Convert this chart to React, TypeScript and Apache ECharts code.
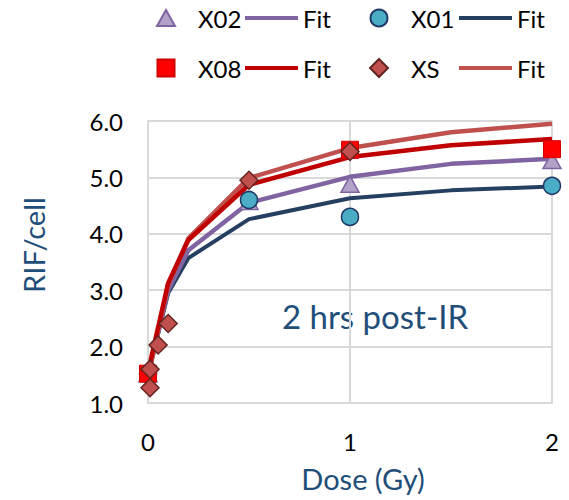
import React, { useEffect, useRef } from "react";
import * as echarts from "echarts";

// Fit curves (dose points and fitted RIF/cell values)
const fitDoses = [0, 0.1, 0.2, 0.5, 1, 1.5, 2];
const fitX02 = [1.5, 3.0, 3.71, 4.55, 5.01, 5.24, 5.33];
const fitX01 = [1.5, 2.95, 3.57, 4.26, 4.63, 4.77, 4.84];
const fitX08 = [1.55, 3.13, 3.89, 4.87, 5.36, 5.57, 5.68];
const fitXS = [1.45, 3.1, 3.92, 4.99, 5.52, 5.8, 5.95];

// Measured points
const dosesX02 = [0, 0.5, 1, 2];
const valuesX02 = [1.52, 4.57, 4.88, 5.3];
const dosesX01 = [0, 0.5, 1, 2];
const valuesX01 = [1.52, 4.6, 4.3, 4.85];
const dosesX08 = [0, 1, 2];
const valuesX08 = [1.52, 5.49, 5.5];
const dosesXS = [0.01, 0.01, 0.05, 0.1, 0.5, 1];
const valuesXS = [1.27, 1.6, 2.03, 2.41, 4.95, 5.46];

const xTicks = [0, 1, 2];
const yTicks = [1, 2, 3, 4, 5, 6];

const annotation = "2 hrs post-IR";
const xTitle = "Dose (Gy)";
const yTitle = "RIF/cell";

const FONT = "Lato";
const NAVY_TEXT = "#1F4E79";
const GRID = "#D9D9D9";

const pairs = (xs: number[], ys: number[]) => xs.map((x, i) => [x, ys[i]]);

export default function App() {
  const ref = useRef<HTMLDivElement>(null);
  useEffect(() => {
    if (!ref.current) return;
    const chart = echarts.init(ref.current, undefined, { renderer: "svg" });
    const legendBase = {
      orient: "horizontal",
      itemGap: 0,
      padding: 0,
      selectedMode: false,
      formatter: (n: string) => (n.endsWith(" Fit") ? "Fit" : n),
    };
    const markerLegend = (name: string, cx: number, top: number, w: number, h: number) => ({
      ...legendBase,
      left: cx - w / 2,
      top,
      itemWidth: w,
      itemHeight: h,
      textStyle: { fontSize: 24, color: "#000", fontFamily: FONT, padding: [0, 0, 0, 32 - w / 2 - 5] },
      data: [name],
    });
    const lineLegend = (name: string, left: number, top: number) => ({
      ...legendBase,
      left,
      top,
      itemWidth: 53,
      itemHeight: 4,
      textStyle: { fontSize: 24, color: "#000", fontFamily: FONT },
      data: [{ name, icon: "rect" }],
    });
    const lineSeries = (name: string, vals: number[], color: string, width: number) => ({
      name,
      type: "line",
      data: pairs(fitDoses, vals),
      symbol: "none",
      lineStyle: { color, width },
      itemStyle: { color },
      z: 2,
    });
    chart.setOption({
      animation: false,
      textStyle: { fontFamily: FONT },
      grid: { left: 148, right: 17, top: 121, bottom: 97 },
      legend: [
        markerLegend("X02", 165, 6, 18, 16),
        lineLegend("X02 Fit", 245, 6),
        markerLegend("X01", 378, 6, 17, 17),
        lineLegend("X01 Fit", 459, 6),
        markerLegend("X08", 165, 56, 17, 17),
        lineLegend("X08 Fit", 245, 56),
        markerLegend("XS", 378, 56, 18, 18),
        lineLegend("XS Fit", 459, 56),
      ],
      xAxis: {
        type: "value",
        min: xTicks[0],
        max: xTicks[xTicks.length - 1],
        interval: 1,
        axisLine: { show: true, lineStyle: { color: GRID, width: 2 } },
        axisTick: { show: false },
        splitLine: { show: true, lineStyle: { color: GRID, width: 2 } },
        axisLabel: { fontSize: 24, color: "#000", margin: 26, fontFamily: FONT },
        name: xTitle,
        nameLocation: "middle",
        nameGap: 61,
        nameTextStyle: { fontSize: 29, color: NAVY_TEXT, fontFamily: FONT, padding: [0, 0, 0, 26] },
      },
      yAxis: {
        type: "value",
        min: yTicks[0],
        max: yTicks[yTicks.length - 1],
        interval: 1,
        axisLine: { show: true, lineStyle: { color: GRID, width: 2 } },
        axisTick: { show: false },
        splitLine: { show: true, lineStyle: { color: GRID, width: 2 } },
        axisLabel: {
          fontSize: 24,
          color: "#000",
          margin: 25,
          fontFamily: FONT,
          formatter: (v: number) => v.toFixed(1),
        },
        name: yTitle,
        nameLocation: "middle",
        nameGap: 100,
        nameTextStyle: { fontSize: 29, color: NAVY_TEXT, fontFamily: FONT, padding: [0, 0, 0, 34] },
      },
      graphic: [
        {
          type: "text",
          x: 375,
          y: 316,
          style: {
            text: annotation,
            fontSize: 33,
            fontFamily: FONT,
            fill: NAVY_TEXT,
            align: "center",
            verticalAlign: "middle",
          },
        },
      ],
      series: [
        lineSeries("X01 Fit", fitX01, "#243F60", 4),
        lineSeries("X02 Fit", fitX02, "#8064A2", 4.5),
        lineSeries("XS Fit", fitXS, "#C0504D", 4.5),
        lineSeries("X08 Fit", fitX08, "#C00000", 4.5),
        {
          name: "X02",
          type: "scatter",
          data: pairs(dosesX02, valuesX02),
          symbol: "triangle",
          symbolSize: [18, 16],
          itemStyle: { color: "#B3A2C7", borderColor: "#7F64A2", borderWidth: 1.5, opacity: 1 },
          z: 3,
        },
        {
          name: "X01",
          type: "scatter",
          data: pairs(dosesX01, valuesX01),
          symbol: "circle",
          symbolSize: 17,
          itemStyle: { color: "#4BACC6", borderColor: "#1F3864", borderWidth: 1.5, opacity: 1 },
          z: 3,
        },
        {
          name: "X08",
          type: "scatter",
          data: pairs(dosesX08, valuesX08),
          symbol: "rect",
          symbolSize: 17,
          itemStyle: { color: "#FF0000", borderColor: "#D00000", borderWidth: 1, opacity: 1 },
          z: 3,
        },
        {
          name: "XS",
          type: "scatter",
          data: pairs(dosesXS, valuesXS),
          symbol: "diamond",
          symbolSize: 18,
          itemStyle: { color: "#C0504D", borderColor: "#632523", borderWidth: 1.5, opacity: 1 },
          z: 3,
        },
      ],
    });
    return () => chart.dispose();
  }, []);
  return (
    <div
      ref={ref}
      style={{ position: "fixed", left: 0, top: 0, width: 569, height: 500, background: "#fff" }}
    />
  );
}
